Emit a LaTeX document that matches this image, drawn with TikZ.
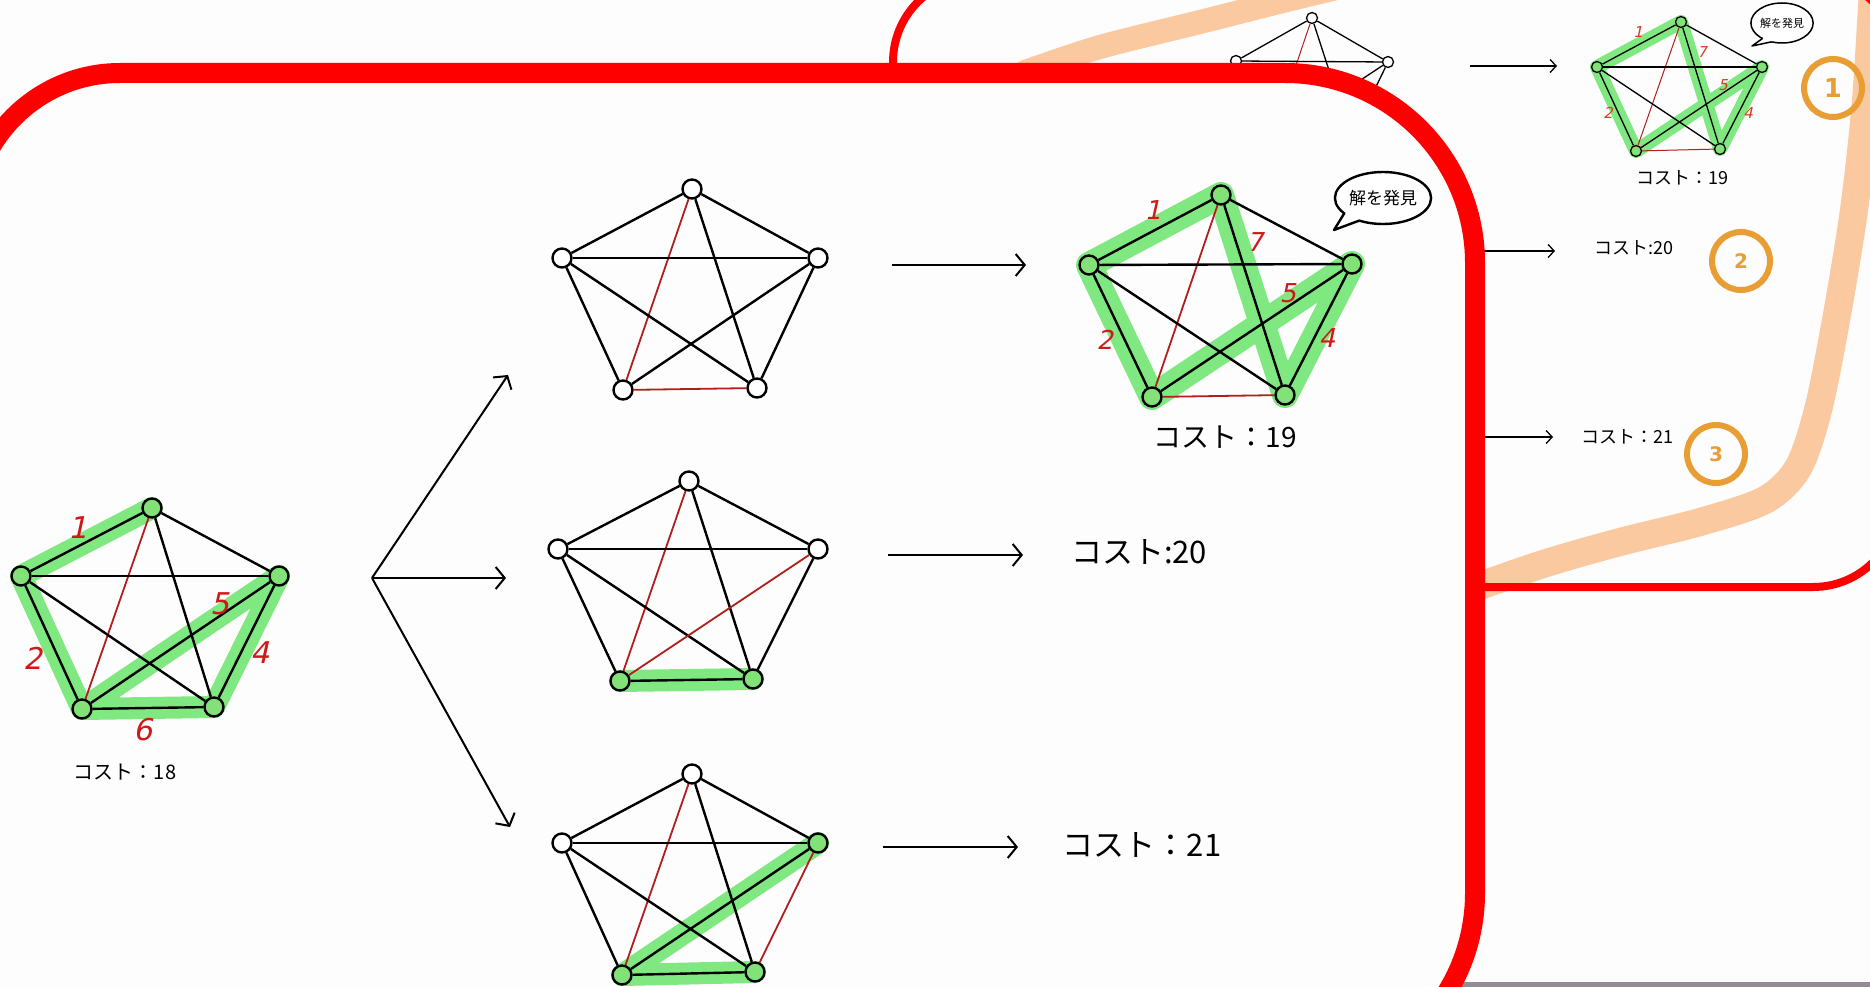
\documentclass[tikz,border=0pt]{standalone}
\usepackage{fontspec}
\newfontfamily\jp{Noto Sans CJK JP}
\newfontfamily\numf[FakeSlant=0.22]{DejaVu Sans}
\newfontfamily\plainf{DejaVu Sans}
\usetikzlibrary{arrows.meta,shapes.geometric}
\definecolor{paper}{RGB}{253,253,253}
\definecolor{hlgreen}{RGB}{128,232,128}
\definecolor{nodegreen}{RGB}{130,226,120}
\definecolor{edgered}{RGB}{178,30,30}
\definecolor{labred}{RGB}{208,24,24}
\definecolor{slabred}{RGB}{215,60,30}
\definecolor{peach}{RGB}{250,201,160}
\definecolor{ringorange}{RGB}{232,158,52}
\definecolor{stripgray}{RGB}{148,138,148}
\definecolor{panelred}{RGB}{255,0,0}
\begin{document}
\begin{tikzpicture}[x=1pt,y=-1pt,
  vtx/.style={circle,draw=black,line width=2.4pt,fill=white,minimum size=19pt,inner sep=0pt},
  gvtx/.style={vtx,fill=nodegreen},
  ed/.style={line width=2.4pt,draw=black},
  rd/.style={line width=1.8pt,draw=edgered},
  hl/.style={line width=22pt,draw=hlgreen,line cap=round,line join=round},
  svtx/.style={circle,draw=black,line width=1.3pt,fill=white,minimum size=11pt,inner sep=0pt},
  sgvtx/.style={svtx,fill=nodegreen},
  sed/.style={line width=1.3pt,draw=black},
  srd/.style={line width=1pt,draw=edgered},
  shl/.style={line width=14pt,draw=hlgreen,line cap=round,line join=round},
  lab/.style={text=labred,font=\numf\fontsize{30}{30}\selectfont,inner sep=0pt},
  slab/.style={text=slabred,font=\numf\fontsize{15}{15}\selectfont,inner sep=0pt},
  cost/.style={font=\jp\fontsize{28}{28}\selectfont,inner sep=0pt},
  scost/.style={font=\jp\fontsize{18}{18}\selectfont,inner sep=0pt},
  arr/.style={line width=2pt,-{Straight Barb[length=9pt,width=22pt]}},
  sarr/.style={line width=1.3pt,-{Straight Barb[length=6pt,width=13pt]}},
  ring/.style={circle,draw=ringorange,line width=6pt,minimum size=58pt,inner sep=0pt,
    text=ringorange,font=\plainf\bfseries\fontsize{26}{26}\selectfont},
  peachband/.style={draw=peach,line width=28pt,line cap=round,line join=round},
  bubble/.style={ellipse,draw=black,fill=white,inner sep=0pt},
]
\useasboundingbox (0,0) rectangle (1870,987);
\clip (0,0) rectangle (1870,987);
\fill[paper] (0,0) rectangle (1870,987);

% grey strip along the lower edge
\fill[stripgray] (1460,982) rectangle (1870,992);

% ---------------- slide behind ----------------
\fill[paper,rounded corners=85pt] (893,-23) rectangle (1898,587);
\draw[peachband,line width=24pt] plot[smooth] coordinates {(1025,72) (1100,47) (1200,22) (1287,0) (1370,-20)};
\draw[peachband] plot[smooth] coordinates {(1874,-30) (1866,100) (1854,210) (1836,320) (1818,410) (1798,468) (1765,500) (1700,522) (1620,542) (1540,565) (1440,600)};
\draw[panelred,line width=8pt,rounded corners=85pt] (893,-23) rectangle (1898,587);

% first candidate graph (small copy)
\coordinate (a-t) at (1312,18);  \coordinate (a-l) at (1236,61);
\coordinate (a-r) at (1388,62);  \coordinate (a-bl) at (1271,139);
\coordinate (a-br) at (1351,138);
\foreach \p in {t,l,r,bl,br} \node[svtx] (a-\p-n) at (a-\p) {};
\foreach \u/\v/\st in {t/l/sed,t/r/sed,t/bl/srd,t/br/sed,l/r/sed,l/bl/sed,l/br/sed,r/bl/sed,r/br/sed,bl/br/srd}
  \draw[\st] (a-\u-n) -- (a-\v-n);

% solved graph (small copy)
\coordinate (b-t) at (1681,22);  \coordinate (b-l) at (1597,67);
\coordinate (b-r) at (1762,67);  \coordinate (b-bl) at (1636,151);
\coordinate (b-br) at (1720,149);
\draw[shl] (b-t) -- (b-l) -- (b-bl) -- (b-r) -- (b-br) -- cycle;
\foreach \p in {t,l,r,bl,br} \node[sgvtx] (b-\p-n) at (b-\p) {};
\foreach \u/\v/\st in {t/l/sed,t/r/sed,t/bl/srd,t/br/sed,l/r/sed,l/bl/sed,l/br/sed,r/bl/sed,r/br/sed,bl/br/srd}
  \draw[\st] (b-\u-n) -- (b-\v-n);
\node[slab] (b-1) at (1638,32) {1};
\node[slab] (b-7) at (1702,52) {7};
\node[slab] (b-5) at (1723,85) {5};
\node[slab] (b-2) at (1608,113) {2};
\node[slab] (b-4) at (1748,113) {4};
\node[scost] (b-cost) at (1682,178) {コスト：19};
\node[bubble,line width=1.5pt,minimum width=60pt,minimum height=40pt,font=\jp\fontsize{11}{11}\selectfont] (b-bub) at (1782,23) {解を発見};
\fill[white] (1762.7,38.3) -- (1752,46) -- (1771.7,41.8) -- (1772,36) -- cycle;
\draw[line width=1.5pt,line join=round] (1762.7,38.3) -- (1752,46) -- (1771.7,41.8);

% small arrows, costs and ranking rings
\coordinate (bs1) at (1470,66);  \coordinate (be1) at (1557,66);
\coordinate (bs2) at (1440,251); \coordinate (be2) at (1555,251);
\coordinate (bs3) at (1440,437); \coordinate (be3) at (1553,437);
\draw[sarr] (bs1) -- (be1);
\draw[sarr] (bs2) -- (be2);
\draw[sarr] (bs3) -- (be3);
\node[scost] (b-cost2) at (1634,248) {コスト:20};
\node[scost] (b-cost3) at (1627,437) {コスト：21};
\node[ring] (rk1) at (1833,88) {1};
\node[ring,font=\plainf\bfseries\fontsize{20}{20}\selectfont] (rk2) at (1741,261) {2};
\node[ring,font=\plainf\bfseries\fontsize{20}{20}\selectfont] (rk3) at (1716,454) {3};

% ---------------- enlarged panel ----------------
\path[fill=paper,draw=panelred,line width=20pt]
  (-30,1083) -- (-30,223) arc[start angle=180,end angle=270,radius=150]
  -- (1285,73) arc[start angle=270,end angle=360,radius=190]
  -- (1475,893) arc[start angle=0,end angle=90,radius=190]
  -- cycle;

% starting tour, cost 18
\coordinate (s-t) at (152,508);  \coordinate (s-l) at (21,576);
\coordinate (s-r) at (279,576);  \coordinate (s-bl) at (82,709);
\coordinate (s-br) at (214,707);
\draw[hl] (s-t) -- (s-l) -- (s-bl) -- (s-br) -- (s-r) -- (s-bl);
\foreach \p in {t,l,r,bl,br} \node[gvtx] (s-\p-n) at (s-\p) {};
\foreach \u/\v/\st in {t/l/ed,t/r/ed,t/bl/rd,t/br/ed,l/r/ed,l/bl/ed,l/br/ed,r/bl/ed,r/br/ed,bl/br/ed}
  \draw[\st] (s-\u-n) -- (s-\v-n);
\node[lab] (s-1) at (78,528) {1};
\node[lab] (s-2) at (33,658) {2};
\node[lab] (s-5) at (220,604) {5};
\node[lab] (s-4) at (260,653) {4};
\node[lab] (s-6) at (143,730) {6};
\node[cost,font=\jp\fontsize{20}{20}\selectfont] (s-cost) at (125,772) {コスト：18};

% branching arrows
\coordinate (fan) at (372,578);
\coordinate (f1) at (508,375);
\coordinate (f2) at (506,578);
\coordinate (f3) at (510,827);
\draw[arr] (fan) -- (f1);
\draw[arr] (fan) -- (f2);
\draw[arr] (fan) -- (f3);

% candidate 1
\coordinate (m-t) at (692,189);  \coordinate (m-l) at (562,258);
\coordinate (m-r) at (818,258);  \coordinate (m-bl) at (623,390);
\coordinate (m-br) at (757,388);
\foreach \p in {t,l,r,bl,br} \node[vtx] (m-\p-n) at (m-\p) {};
\foreach \u/\v/\st in {t/l/ed,t/r/ed,t/bl/rd,t/br/ed,l/r/ed,l/bl/ed,l/br/ed,r/bl/ed,r/br/ed,bl/br/rd}
  \draw[\st] (m-\u-n) -- (m-\v-n);

% candidate 2
\coordinate (n-t) at (689,481);  \coordinate (n-l) at (558,549);
\coordinate (n-r) at (818,549);  \coordinate (n-bl) at (620,681);
\coordinate (n-br) at (753,679);
\draw[hl] (n-bl) -- (n-br);
\foreach \p in {t,l,r} \node[vtx] (n-\p-n) at (n-\p) {};
\foreach \p in {bl,br} \node[gvtx] (n-\p-n) at (n-\p) {};
\foreach \u/\v/\st in {t/l/ed,t/r/ed,t/bl/rd,t/br/ed,l/r/ed,l/bl/ed,l/br/ed,r/bl/rd,r/br/ed,bl/br/ed}
  \draw[\st] (n-\u-n) -- (n-\v-n);

% candidate 3
\coordinate (k-t) at (692,774);  \coordinate (k-l) at (562,843);
\coordinate (k-r) at (818,843);  \coordinate (k-bl) at (622,975);
\coordinate (k-br) at (755,972);
\draw[hl] (k-r) -- (k-bl) -- (k-br);
\foreach \p in {t,l} \node[vtx] (k-\p-n) at (k-\p) {};
\foreach \p in {r,bl,br} \node[gvtx] (k-\p-n) at (k-\p) {};
\foreach \u/\v/\st in {t/l/ed,t/r/ed,t/bl/rd,t/br/ed,l/r/ed,l/bl/ed,l/br/ed,r/bl/ed,r/br/rd,bl/br/ed}
  \draw[\st] (k-\u-n) -- (k-\v-n);

% results
\coordinate (rs1) at (892,265); \coordinate (re1) at (1026,265);
\coordinate (rs2) at (888,555); \coordinate (re2) at (1023,555);
\coordinate (rs3) at (883,847); \coordinate (re3) at (1018,847);
\draw[arr] (rs1) -- (re1);
\draw[arr] (rs2) -- (re2);
\draw[arr] (rs3) -- (re3);

% solved tour, cost 19
\coordinate (v-t) at (1221,195);  \coordinate (v-l) at (1089,265);
\coordinate (v-r) at (1352,264);  \coordinate (v-bl) at (1152,397);
\coordinate (v-br) at (1285,395);
\draw[hl,line width=26pt] (v-t) -- (v-l) -- (v-bl) -- (v-r) -- (v-br) -- cycle;
\foreach \p in {t,l,r,bl,br} \node[gvtx] (v-\p-n) at (v-\p) {};
\foreach \u/\v/\st in {t/l/ed,t/r/ed,t/bl/rd,t/br/ed,l/r/ed,l/bl/ed,l/br/ed,r/bl/ed,r/br/ed,bl/br/rd}
  \draw[\st] (v-\u-n) -- (v-\v-n);
\node[lab,font=\numf\fontsize{26}{26}\selectfont] (v-1) at (1153,210) {1};
\node[lab,font=\numf\fontsize{26}{26}\selectfont] (v-7) at (1255,242) {7};
\node[lab,font=\numf\fontsize{26}{26}\selectfont] (v-5) at (1288,293) {5};
\node[lab,font=\numf\fontsize{26}{26}\selectfont] (v-2) at (1105,340) {2};
\node[lab,font=\numf\fontsize{26}{26}\selectfont] (v-4) at (1327,338) {4};
\node[bubble,line width=2.4pt,minimum width=94pt,minimum height=52pt,font=\jp\fontsize{17}{17}\selectfont] (v-bub) at (1383,198) {解を発見};
\fill[white] (1344.5,212.9) -- (1334,230) -- (1359.5,220.5) -- (1356,210) -- cycle;
\draw[line width=2.4pt,line join=round] (1344.5,212.9) -- (1334,230) -- (1359.5,220.5);

\node[cost] (v-cost) at (1225,437) {コスト：19};
\node[cost,font=\jp\fontsize{31}{31}\selectfont] (n-cost) at (1139,552) {コスト:20};
\node[cost,font=\jp\fontsize{31}{31}\selectfont] (k-cost) at (1142,845) {コスト：21};
\end{tikzpicture}
\end{document}
